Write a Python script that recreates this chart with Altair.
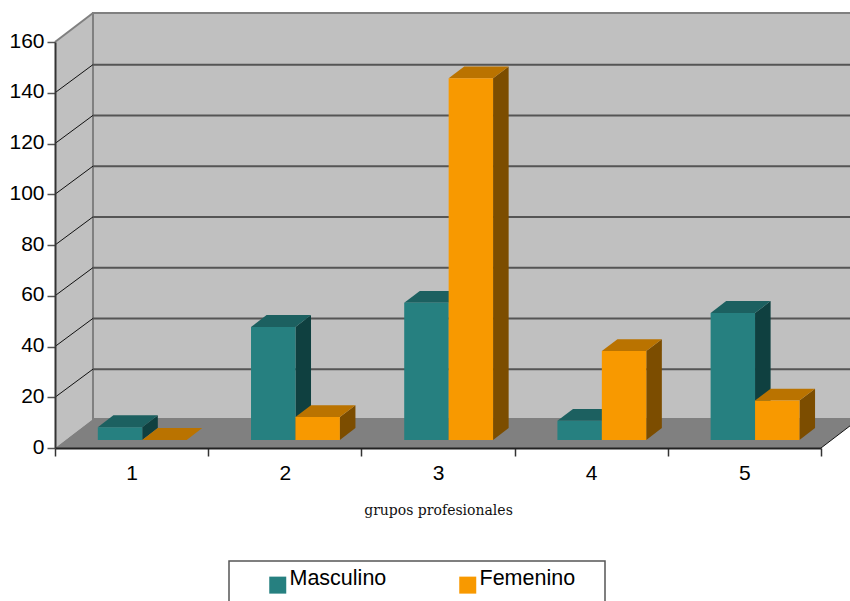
import altair as alt
import pandas as pd

# Values per professional group
groups = [1, 2, 3, 4, 5]
masculino = [5, 44.5, 54, 7.5, 50]
femenino = [0, 9, 142.5, 35, 15.5]
y_ticks = [0, 20, 40, 60, 80, 100, 120, 140, 160]

# Oblique projection: full depth of the box, in axis units
DEPTH_X = 0.248
DEPTH_Y = 11.43
GRID_DEPTH_Y = 11.08
# Near and far planes of the bars, as fractions of the depth
Z_NEAR = 0.28
Z_FAR = 0.69
BAR_W = 0.29
BAR_START = 0.21
Y_MAX = 160
N = len(groups)

FRONT = {"Masculino": "#268080", "Femenino": "#F89900"}
TOP = {"Masculino": "#1C6060", "Femenino": "#BA7300"}
SIDE = {"Masculino": "#0F4040", "Femenino": "#7C4D00"}


def px(x, z):
    return x + z * DEPTH_X


def py(v, z):
    return v + z * DEPTH_Y


def bar_tables(values, offset):
    """Front, top and side faces of one series."""
    front, top, side = [], [], []
    for i, (g, v) in enumerate(zip(groups, values)):
        x0 = i + BAR_START + offset * BAR_W
        x1 = x0 + BAR_W
        base = py(0, Z_NEAR)
        head = base + v
        front.append({"g": g, "x": px(x0, Z_NEAR), "x2": px(x1, Z_NEAR), "y": base, "y2": head})
        top.append({"g": g, "y": head, "x": px(x0, Z_NEAR), "x2": px(x1, Z_NEAR)})
        top.append({"g": g, "y": head + (Z_FAR - Z_NEAR) * DEPTH_Y, "x": px(x0, Z_FAR), "x2": px(x1, Z_FAR)})
        side.append({"g": g, "x": px(x1, Z_NEAR), "y": base, "y2": head})
        side.append({"g": g, "x": px(x1, Z_FAR),
                     "y": base + (Z_FAR - Z_NEAR) * DEPTH_Y,
                     "y2": head + (Z_FAR - Z_NEAR) * DEPTH_Y})
    return pd.DataFrame(front), pd.DataFrame(top), pd.DataFrame(side)


x_scale = alt.Scale(domain=[0, N], nice=False, zero=False)
y_scale = alt.Scale(domain=[0, Y_MAX], nice=False, zero=False)

# The same axis definitions go on every layer so that they merge cleanly
x_axis = alt.Axis(
    values=list(range(N + 1)), labelExpr="datum.value < 5 ? datum.value + 1 : ''",
    labelOffset=76.6, labelFont="Liberation Sans", labelFontSize=21, labelColor="#000000",
    labelPadding=6, labelFlush=False, labelOverlap=False, tickSize=8, tickColor="#333333", tickWidth=1.5,
    domainColor="#222222", domainWidth=2, grid=False, zindex=2,
    title="grupos profesionales", titleFont="DejaVu Serif", titleFontSize=14,
    titleFontWeight="normal", titleColor="#111111", titleY=55,
)
y_axis = alt.Axis(
    values=y_ticks, labelFont="Liberation Sans", labelFontSize=21, labelColor="#000000",
    labelPadding=3, labelOffset=-1, labelFlush=False, labelOverlap=False, tickSize=8,
    tickColor="#555555", tickWidth=1.5,
    domainColor="#333333", domainWidth=2, grid=False, zindex=2, title=None,
)

X = alt.X("x:Q", scale=x_scale, axis=x_axis)
Y = alt.Y("y:Q", scale=y_scale, axis=y_axis)
X2 = alt.X2("x2:Q")
Y2 = alt.Y2("y2:Q")

# Legend frame, cut by the lower edge of the page
frame = alt.Chart(pd.DataFrame({"a": [0]})).mark_rect(
    fill="white", stroke="#555555", strokeWidth=1.5
).encode(x=alt.value(174), x2=alt.value(550), y=alt.value(519), y2=alt.value(580))

# Walls and floor of the box
left_wall = alt.Chart(pd.DataFrame({
    "x": [0, DEPTH_X], "y": [0, DEPTH_Y], "y2": [Y_MAX, Y_MAX + DEPTH_Y]
})).mark_area(color="#C0C0C0").encode(x=X, y=Y, y2=Y2)

back_wall = alt.Chart(pd.DataFrame({
    "x": [DEPTH_X], "x2": [N + DEPTH_X], "y": [DEPTH_Y], "y2": [Y_MAX + DEPTH_Y]
})).mark_rect(fill="#C0C0C0", stroke="#808080", strokeWidth=2).encode(x=X, x2=X2, y=Y, y2=Y2)

floor = alt.Chart(pd.DataFrame({
    "y": [0, DEPTH_Y], "x": [0, DEPTH_X], "x2": [N, N + DEPTH_X]
})).mark_area(orient="horizontal", color="#808080").encode(x=X, x2=X2, y=Y)

# Gridlines along the back wall and across the left wall
grid_back = alt.Chart(pd.DataFrame({
    "x": [DEPTH_X] * 7, "x2": [N + DEPTH_X] * 7,
    "y": [t + GRID_DEPTH_Y for t in y_ticks[1:-1]],
})).mark_rule(color="#555555", strokeWidth=2).encode(x=X, x2=X2, y=Y)

grid_left = alt.Chart(pd.DataFrame({
    "x": [0] * 7, "x2": [DEPTH_X] * 7,
    "y": y_ticks[1:-1], "y2": [t + GRID_DEPTH_Y for t in y_ticks[1:-1]],
})).mark_rule(color="#111111", strokeWidth=1).encode(x=X, x2=X2, y=Y, y2=Y2)

edge_top = alt.Chart(pd.DataFrame({
    "x": [0], "x2": [DEPTH_X], "y": [Y_MAX], "y2": [Y_MAX + DEPTH_Y]
})).mark_rule(color="#808080", strokeWidth=2).encode(x=X, x2=X2, y=Y, y2=Y2)

edge_right = alt.Chart(pd.DataFrame({
    "x": [N], "x2": [N + DEPTH_X], "y": [0], "y2": [DEPTH_Y]
})).mark_rule(color="#111111", strokeWidth=1).encode(x=X, x2=X2, y=Y, y2=Y2)

color = alt.Color(
    "serie:N",
    scale=alt.Scale(domain=list(FRONT), range=list(FRONT.values())),
    legend=alt.Legend(
        title=None, orient="none", legendX=212, legendY=532, direction="horizontal",
        columns=2, columnPadding=70, symbolType="square", symbolSize=289,
        symbolStrokeWidth=0, symbolOpacity=1, labelFont="Liberation Sans",
        labelFontSize=21.5, labelColor="#000000", labelOffset=1, labelBaseline="alphabetic",
        padding=0,
    ),
)


def series_layers(name, values, offset):
    f, t, s = bar_tables(values, offset)
    f = f.assign(serie=name)
    return [
        alt.Chart(s).mark_area(color=SIDE[name]).encode(x=X, y=Y, y2=Y2, detail="g:N"),
        alt.Chart(t).mark_area(orient="horizontal", color=TOP[name]).encode(x=X, x2=X2, y=Y, detail="g:N"),
        alt.Chart(f).mark_rect().encode(x=X, x2=X2, y=Y, y2=Y2, color=color),
    ]


chart = alt.layer(
    frame, left_wall, back_wall, floor, grid_back, grid_left, edge_top, edge_right,
    *series_layers("Masculino", masculino, 0),
    *series_layers("Femenino", femenino, 1),
).properties(
    width=766, height=406,
    padding={"left": 55, "top": 42, "right": 29, "bottom": 153},
    autosize=alt.AutoSizeParams(type="none"),
    background="white",
).configure_view(stroke=None)

chart.save("out.html", embed_options={"renderer": "svg", "actions": False})
